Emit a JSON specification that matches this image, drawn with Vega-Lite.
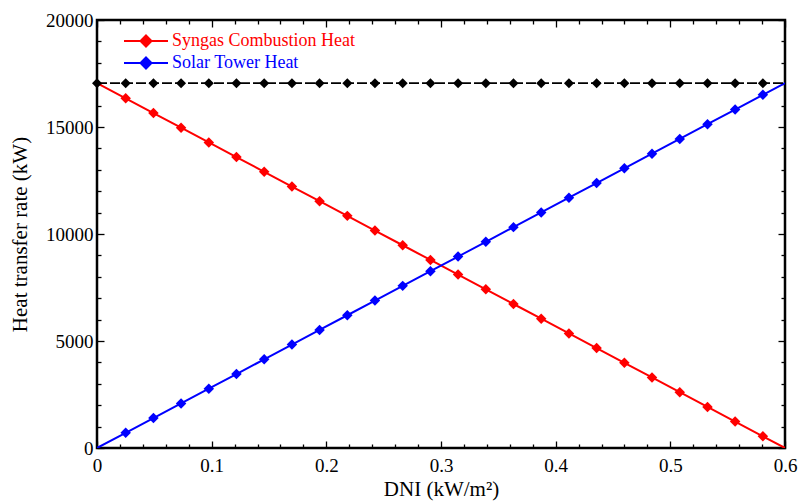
{
  "$schema": "https://vega.github.io/schema/vega-lite/v6.json",
  "width": 688,
  "height": 428,
  "autosize": {"type": "none"},
  "padding": {"left": 97, "top": 20, "right": 14, "bottom": 55},
  "background": "white",
  "config": {
    "view": {"stroke": "black", "strokeWidth": 2.5},
    "axis": {
      "grid": false,
      "domain": false,
      "tickColor": "black",
      "tickWidth": 1.3,
      "labelFont": "Liberation Serif",
      "labelFontSize": 19,
      "labelColor": "black",
      "titleFont": "Liberation Serif",
      "titleFontSize": 21,
      "titleFontWeight": "normal",
      "titleColor": "black"
    },
    "legend": {
      "labelFont": "Liberation Serif",
      "labelFontSize": 18,
      "labelLimit": 400
    }
  },
  "datasets": {
    "heat": [
      {"x": 0, "Syngas Combustion Heat": 17050, "Solar Tower Heat": 0, "Total": 17050},
      {"x": 0.025, "Syngas Combustion Heat": 16340, "Solar Tower Heat": 710, "Total": 17050},
      {"x": 0.0492, "Syngas Combustion Heat": 15652, "Solar Tower Heat": 1398, "Total": 17050},
      {"x": 0.0733, "Syngas Combustion Heat": 14967, "Solar Tower Heat": 2083, "Total": 17050},
      {"x": 0.0975, "Syngas Combustion Heat": 14279, "Solar Tower Heat": 2771, "Total": 17050},
      {"x": 0.1216, "Syngas Combustion Heat": 13595, "Solar Tower Heat": 3455, "Total": 17050},
      {"x": 0.1458, "Syngas Combustion Heat": 12907, "Solar Tower Heat": 4143, "Total": 17050},
      {"x": 0.17, "Syngas Combustion Heat": 12219, "Solar Tower Heat": 4831, "Total": 17050},
      {"x": 0.1941, "Syngas Combustion Heat": 11534, "Solar Tower Heat": 5516, "Total": 17050},
      {"x": 0.2183, "Syngas Combustion Heat": 10847, "Solar Tower Heat": 6203, "Total": 17050},
      {"x": 0.2424, "Syngas Combustion Heat": 10162, "Solar Tower Heat": 6888, "Total": 17050},
      {"x": 0.2666, "Syngas Combustion Heat": 9474, "Solar Tower Heat": 7576, "Total": 17050},
      {"x": 0.2908, "Syngas Combustion Heat": 8786, "Solar Tower Heat": 8264, "Total": 17050},
      {"x": 0.3149, "Syngas Combustion Heat": 8102, "Solar Tower Heat": 8948, "Total": 17050},
      {"x": 0.3391, "Syngas Combustion Heat": 7414, "Solar Tower Heat": 9636, "Total": 17050},
      {"x": 0.3632, "Syngas Combustion Heat": 6729, "Solar Tower Heat": 10321, "Total": 17050},
      {"x": 0.3874, "Syngas Combustion Heat": 6041, "Solar Tower Heat": 11009, "Total": 17050},
      {"x": 0.4116, "Syngas Combustion Heat": 5354, "Solar Tower Heat": 11696, "Total": 17050},
      {"x": 0.4357, "Syngas Combustion Heat": 4669, "Solar Tower Heat": 12381, "Total": 17050},
      {"x": 0.4599, "Syngas Combustion Heat": 3981, "Solar Tower Heat": 13069, "Total": 17050},
      {"x": 0.484, "Syngas Combustion Heat": 3296, "Solar Tower Heat": 13754, "Total": 17050},
      {"x": 0.5082, "Syngas Combustion Heat": 2609, "Solar Tower Heat": 14441, "Total": 17050},
      {"x": 0.5324, "Syngas Combustion Heat": 1921, "Solar Tower Heat": 15129, "Total": 17050},
      {"x": 0.5565, "Syngas Combustion Heat": 1236, "Solar Tower Heat": 15814, "Total": 17050},
      {"x": 0.5807, "Syngas Combustion Heat": 548, "Solar Tower Heat": 16502, "Total": 17050},
      {"x": 0.6, "Syngas Combustion Heat": 0, "Solar Tower Heat": 17050, "Total": 17050}
    ]
  },
  "data": {"name": "heat"},
  "transform": [
    {"fold": ["Syngas Combustion Heat", "Solar Tower Heat", "Total"], "as": ["series", "y"]}
  ],
  "resolve": {"axis": {"x": "independent", "y": "independent"}},
  "layer": [
    {
      "transform": [{"filter": "datum.series !== 'Total'"}],
      "mark": {"type": "line", "strokeWidth": 2, "clip": true},
      "encoding": {
        "x": {
          "field": "x", "type": "quantitative",
          "scale": {"domain": [0, 0.6], "nice": false, "zero": false},
          "axis": {
            "orient": "bottom",
            "values": [0, 0.1, 0.2, 0.3, 0.4, 0.5, 0.6],
            "format": "~g",
            "tickSize": -7,
            "labelPadding": 15,
            "labelFlush": false,
            "labelOverlap": false,
            "title": "DNI  (kW/m²)",
            "titlePadding": 3
          }
        },
        "y": {
          "field": "y", "type": "quantitative",
          "scale": {"domain": [0, 20000], "nice": false},
          "axis": {
            "orient": "left",
            "values": [0, 5000, 10000, 15000, 20000],
            "format": "d",
            "tickSize": -7,
            "labelPadding": 11,
            "labelFlush": false,
            "labelOverlap": false,
            "title": "Heat transfer rate (kW)",
            "titlePadding": 15
          }
        },
        "color": {
          "field": "series", "type": "nominal",
          "scale": {"domain": ["Syngas Combustion Heat", "Solar Tower Heat"], "range": ["#ff0000", "#0000ff"]},
          "legend": {
            "orient": "none",
            "legendX": 37,
            "legendY": 9,
            "title": null,
            "padding": 0,
            "rowPadding": 0,
            "symbolType": "M-2,0H2M0,-0.5L0.5,0L0,0.5L-0.5,0Z",
            "symbolSize": 484,
            "symbolStrokeWidth": 2,
            "labelOffset": 14,
            "labelBaseline": "middle",
            "encode": {
              "symbols": {"update": {"fill": {"signal": "datum.value === 'Syngas Combustion Heat' ? '#ff0000' : '#0000ff'"}, "stroke": {"signal": "datum.value === 'Syngas Combustion Heat' ? '#ff0000' : '#0000ff'"}, "fillOpacity": {"value": 1}}},
              "labels": {"update": {"fill": {"signal": "datum.value === 'Syngas Combustion Heat' ? '#ff0000' : '#0000ff'"}}}
            }
          }
        }
      }
    },
    {
      "transform": [{"filter": "datum.series !== 'Total' && datum.x > 0 && datum.x < 0.6"}],
      "mark": {"type": "point", "shape": "diamond", "filled": true, "size": 110, "opacity": 1, "strokeWidth": 0},
      "encoding": {
        "x": {
          "field": "x", "type": "quantitative",
          "scale": {"domain": [0, 0.6], "nice": false, "zero": false},
          "axis": {
            "orient": "bottom",
            "values": [0.02, 0.04, 0.06, 0.08, 0.12, 0.14, 0.16, 0.18, 0.22, 0.24, 0.26, 0.28, 0.32, 0.34, 0.36, 0.38, 0.42, 0.44, 0.46, 0.48, 0.52, 0.54, 0.56, 0.58],
            "tickSize": -4,
            "labels": false,
            "title": null
          }
        },
        "y": {
          "field": "y", "type": "quantitative",
          "scale": {"domain": [0, 20000], "nice": false},
          "axis": {
            "orient": "left",
            "values": [1000, 2000, 3000, 4000, 6000, 7000, 8000, 9000, 11000, 12000, 13000, 14000, 16000, 17000, 18000, 19000],
            "tickSize": -4,
            "labels": false,
            "title": null
          }
        },
        "fill": {
          "field": "series", "type": "nominal",
          "scale": {"domain": ["Syngas Combustion Heat", "Solar Tower Heat"], "range": ["#ff0000", "#0000ff"]},
          "legend": null
        }
      }
    },
    {
      "transform": [{"filter": "datum.series === 'Total'"}],
      "mark": {"type": "line", "strokeWidth": 1.8, "color": "black", "strokeDash": [10, 3]},
      "encoding": {
        "x": {
          "field": "x", "type": "quantitative",
          "scale": {"domain": [0, 0.6], "nice": false, "zero": false},
          "axis": {
            "orient": "top",
            "values": [0, 0.1, 0.2, 0.3, 0.4, 0.5, 0.6],
            "tickSize": -7,
            "labels": false,
            "title": null
          }
        },
        "y": {
          "field": "y", "type": "quantitative",
          "scale": {"domain": [0, 20000], "nice": false},
          "axis": {
            "orient": "right",
            "values": [0, 5000, 10000, 15000, 20000],
            "tickSize": -7,
            "labels": false,
            "title": null
          }
        }
      }
    },
    {
      "transform": [{"filter": "datum.series === 'Total' && datum.x < 0.6"}],
      "mark": {"type": "point", "shape": "diamond", "filled": true, "size": 100, "opacity": 1, "strokeWidth": 0, "color": "black"},
      "encoding": {
        "x": {
          "field": "x", "type": "quantitative",
          "scale": {"domain": [0, 0.6], "nice": false, "zero": false},
          "axis": {
            "orient": "top",
            "values": [0.02, 0.04, 0.06, 0.08, 0.12, 0.14, 0.16, 0.18, 0.22, 0.24, 0.26, 0.28, 0.32, 0.34, 0.36, 0.38, 0.42, 0.44, 0.46, 0.48, 0.52, 0.54, 0.56, 0.58],
            "tickSize": -4,
            "labels": false,
            "title": null
          }
        },
        "y": {
          "field": "y", "type": "quantitative",
          "scale": {"domain": [0, 20000], "nice": false},
          "axis": {
            "orient": "right",
            "values": [1000, 2000, 3000, 4000, 6000, 7000, 8000, 9000, 11000, 12000, 13000, 14000, 16000, 17000, 18000, 19000],
            "tickSize": -4,
            "labels": false,
            "title": null
          }
        }
      }
    }
  ]
}
